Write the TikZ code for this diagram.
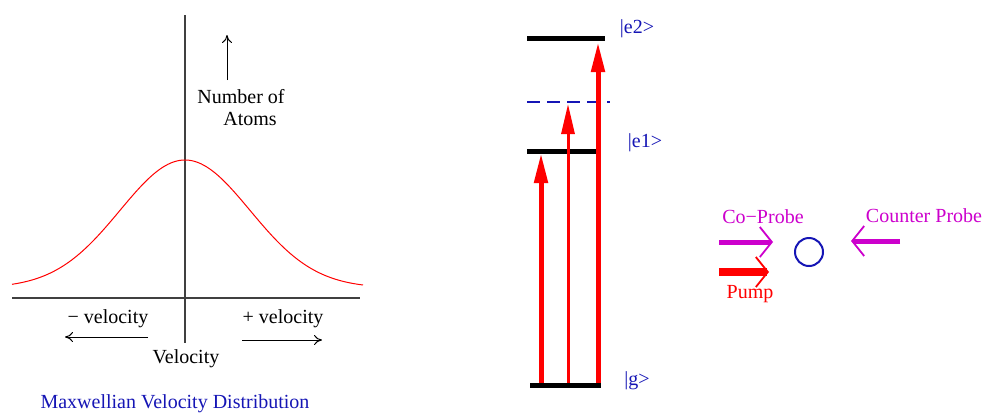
\documentclass[tikz,border=0pt]{standalone}
\usepackage{fontspec}
\setmainfont{Liberation Serif}
\usepackage{xcolor}
\definecolor{LevelBlue}{HTML}{1515B5}
\definecolor{ProbeMagenta}{HTML}{CC00CC}
\definecolor{AxisGray}{HTML}{404040}
\usetikzlibrary{arrows.meta, positioning}

\begin{document}
\begin{tikzpicture}[x=0.5pt, y=-0.5pt]
\tikzset{
  axis/.style={AxisGray, line width=0.7pt},
  hint/.style={black, line width=0.5pt, -{To[length=4pt, width=5pt]}},
  level/.style={black, line width=2.5pt},
  transition/.style={red, line width=2.5pt, -{Triangle[length=15pt, width=6.5pt]}},
  statelabel/.style={LevelBlue, anchor=base, inner sep=0},
  beam/.style={line width=2.5pt, -{Straight Barb[length=6pt, width=15pt, line width=0.9pt 0]}},
}
  \useasboundingbox (0,0) rectangle (984,414);

  % Left: Maxwellian velocity distribution
  \draw[axis] (185,15) -- (185,343);
  \draw[axis] (12,298) -- (360,298);
  \draw[red, line width=0.5pt] plot[domain=12:363, samples=120]
    (\x, {288 - 128*exp(-0.5*((\x-185)/65)^2)});
  \draw[hint] (227,80) -- (227,35);
  \node[anchor=base] (numof) at (241,103) {Number of};
  \node[anchor=base] (atoms) at (250,125) {Atoms};
  \node[anchor=base] (negvel) at (108,323) {− velocity};
  \node[anchor=base] (posvel) at (283,323) {+ velocity};
  \draw[hint] (148,337) -- (65,337);
  \draw[hint] (242,340) -- (322,340);
  \node[anchor=base] (vel) at (186,363) {Velocity};
  \node[anchor=base, LevelBlue] (title) at (175,408) {Maxwellian Velocity Distribution};

  % Middle: energy levels
  \draw[level] (527,38) -- (605,38);
  \draw[LevelBlue, line width=1pt, dash pattern=on 6.5pt off 3.5pt] (527,102) -- (610,102);
  \draw[level] (527,151) -- (601,151);
  \draw[level] (530,385) -- (601,385);
  \node[statelabel] (e2) at (637,33) {|e2>};
  \node[statelabel] (e1) at (645,147) {|e1>};
  \node[statelabel] (g) at (637,385) {|g>};

  % transitions from |g>
  \coordinate (ga) at (541,383);
  \coordinate (gb) at (568,383);
  \coordinate (gc) at (598,383);
  \coordinate (ea) at (541,153);
  \coordinate (eb) at (568,104);
  \coordinate (ec) at (598,42);
  \draw[transition] (ga) -- (ea);
  \draw[transition, line width=1.5pt] (gb) -- (eb);
  \draw[transition] (gc) -- (ec);

  % Right: beams on the atom
  \node[circle, draw=LevelBlue, line width=1pt, minimum size=14pt, inner sep=0] (atom) at (809,252) {};
  \coordinate (cpstart) at (719,242);
  \coordinate (cpend) at (773,242);
  \coordinate (ctstart) at (900,241);
  \coordinate (ctend) at (851,241);
  \coordinate (pstart) at (719,272);
  \coordinate (pend) at (769,272);
  \draw[beam, ProbeMagenta] (cpstart) -- (cpend);
  \draw[beam, ProbeMagenta] (ctstart) -- (ctend);
  \draw[beam, red, line width=4pt] (pstart) -- (pend);
  \node[anchor=base, ProbeMagenta] (coprobe) at (763,223) {Co−Probe};
  \node[anchor=base, ProbeMagenta] (counter) at (924,222) {Counter Probe};
  \node[anchor=base, red] (pump) at (750,298) {Pump};
\end{tikzpicture}
\end{document}
